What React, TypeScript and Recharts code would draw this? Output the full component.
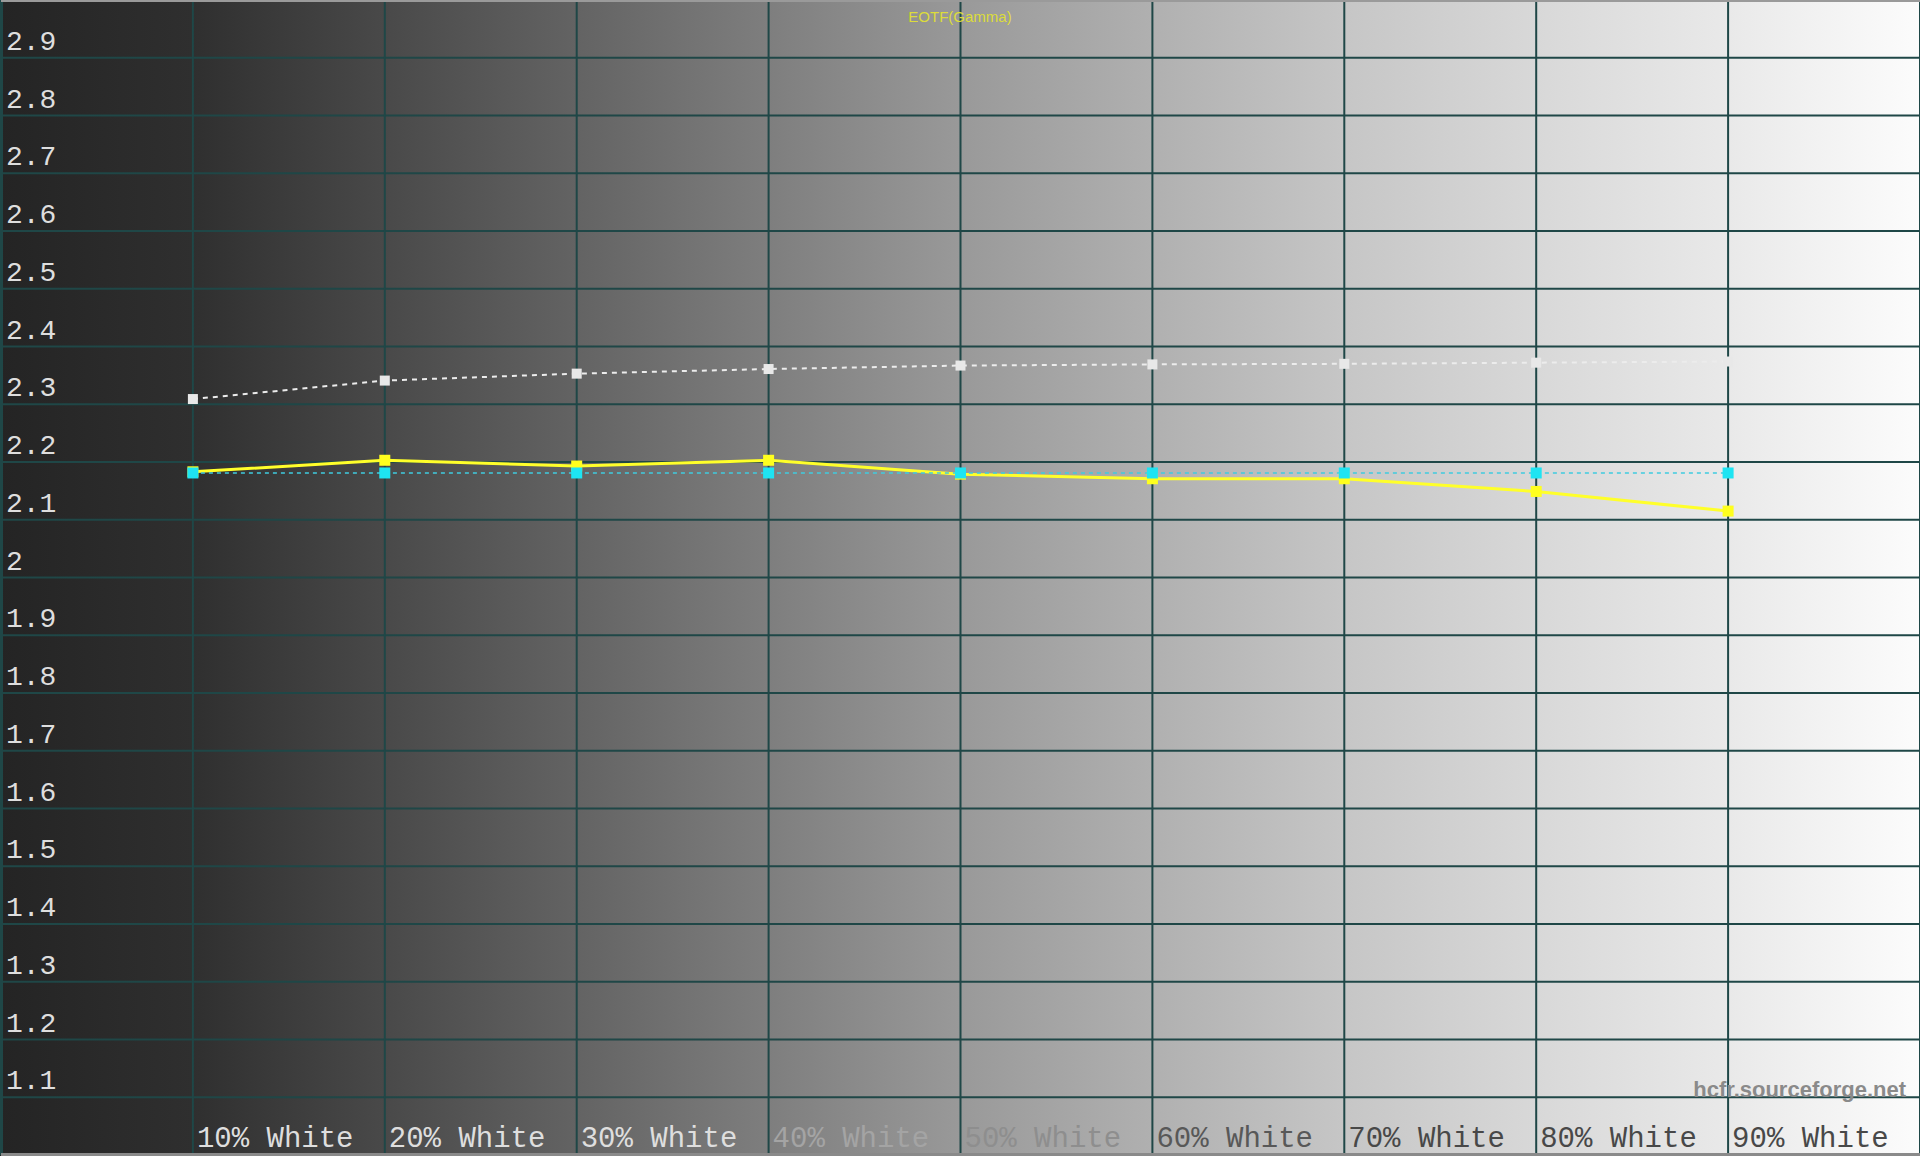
import React from "react";
import { LineChart, Line, XAxis, YAxis, CartesianGrid, ReferenceLine, Customized } from "recharts";

const levels = [10, 20, 30, 40, 50, 60, 70, 80, 90];
const levelLabels = ["10% White", "20% White", "30% White", "40% White", "50% White", "60% White", "70% White", "80% White", "90% White"];
const referenceGamma = [2.309, 2.341, 2.353, 2.361, 2.367, 2.369, 2.37, 2.372, 2.374];
const targetGamma = [2.181, 2.181, 2.181, 2.181, 2.181, 2.181, 2.181, 2.181, 2.181];
const measuredGamma = [2.183, 2.203, 2.193, 2.203, 2.179, 2.171, 2.171, 2.149, 2.115];
const yTicks = [1.1, 1.2, 1.3, 1.4, 1.5, 1.6, 1.7, 1.8, 1.9, 2.0, 2.1, 2.2, 2.3, 2.4, 2.5, 2.6, 2.7, 2.8, 2.9];

const data = levels.map((lv, i) => ({
  level: lv,
  label: levelLabels[i],
  reference: referenceGamma[i],
  target: targetGamma[i],
  measured: measuredGamma[i],
}));

const W = 1920;
const H = 1156;
const GRID = "#1f4747";
const MONO = "'Liberation Mono', 'DejaVu Sans Mono', monospace";

const labelColor = (v: number) =>
  v <= 30 ? "#dedede" : v <= 40 ? "#a4a4a4" : v <= 50 ? "#8e8e8e" : v <= 60 ? "#585858" : "#484848";

const XTick = (props: any) => {
  const { x, y, payload } = props;
  const idx = levels.indexOf(payload.value);
  if (idx < 0) return null;
  return (
    <text x={x + 4} y={y - 8} fontFamily={MONO} fontSize={29} fill={labelColor(payload.value)} textAnchor="start">
      {levelLabels[idx]}
    </text>
  );
};

const YTick = (props: any) => {
  const { y, payload } = props;
  const v = Math.round(payload.value * 10) / 10;
  return (
    <text x={6} y={y - 8} fontFamily={MONO} fontSize={28} fill="#dedede" textAnchor="start">
      {String(v)}
    </text>
  );
};

const square = (fill: string, size: number) => (p: any) => {
  const { cx, cy, index } = p;
  if (cx == null || cy == null) return <g key={index} />;
  return <rect key={index} x={cx - size / 2} y={cy - size / 2} width={size} height={size} fill={fill} />;
};

const Overlay = () => (
  <g>
    <text x={960} y={22} fontFamily="'Liberation Sans', Arial, sans-serif" fontSize={15} fill="#dcdc3a" textAnchor="middle">
      EOTF(Gamma)
    </text>
    <text x={1906} y={1097} fontFamily="'Liberation Sans', Arial, sans-serif" fontWeight="bold" fontSize={22} fill="#8a8a8a" textAnchor="end">
      hcfr.sourceforge.net
    </text>
  </g>
);

export default function App() {
  return (
    <div
      style={{
        position: "absolute",
        left: 0,
        top: 0,
        width: W,
        height: H,
        background:
          "linear-gradient(to right, #242424 0%, #2f2f2f 10%, #494949 20%, #636363 30%, #7e7e7e 40%, #999999 50%, #b0b0b0 60%, #c6c6c6 70%, #d8d8d8 80%, #e9e9e9 90%, #fcfcfc 100%)",
      }}
    >
      <LineChart width={W} height={H} data={data} margin={{ top: 0, right: 0, bottom: 0, left: 0 }}>
        <CartesianGrid stroke={GRID} strokeWidth={2} />
        <XAxis
          dataKey="level"
          type="number"
          domain={[0, 100]}
          ticks={levels}
          height={1}
          tickSize={0}
          tickMargin={0}
          axisLine={false}
          tickLine={false}
          tick={<XTick />}
          interval={0}
        />
        <YAxis
          type="number"
          domain={[1, 3]}
          ticks={yTicks}
          width={1}
          tickSize={0}
          tickMargin={0}
          axisLine={false}
          tickLine={false}
          tick={<YTick />}
          interval={0}
        />
        <ReferenceLine x={0} stroke={GRID} strokeWidth={4} />
        <ReferenceLine y={3} stroke="#9a9a9a" strokeWidth={4} />
        <ReferenceLine y={1} stroke="#8a8a8a" strokeWidth={4} />
        <Line
          dataKey="reference"
          type="linear"
          stroke="#ececec"
          strokeWidth={2}
          strokeDasharray="5 5"
          dot={square("#e8e8e8", 10)}
          activeDot={false}
          isAnimationActive={false}
        />
        <Line
          dataKey="measured"
          type="linear"
          stroke="#ffff2a"
          strokeWidth={3}
          dot={square("#ffff1e", 11)}
          activeDot={false}
          isAnimationActive={false}
        />
        <Line
          dataKey="target"
          type="linear"
          stroke="#3fcbe0"
          strokeWidth={1.5}
          strokeDasharray="4 4"
          dot={square("#1ee4f2", 11)}
          activeDot={false}
          isAnimationActive={false}
        />
        <Customized component={Overlay} />
      </LineChart>
    </div>
  );
}
